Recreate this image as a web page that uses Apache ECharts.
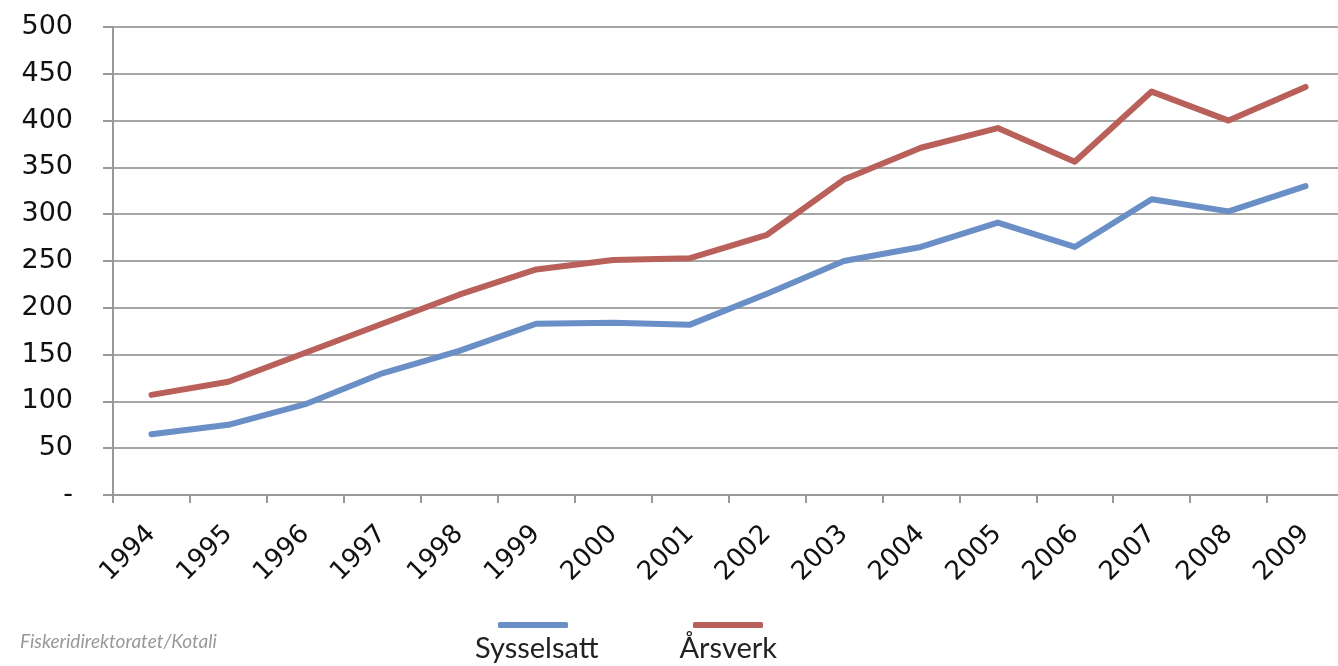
<!DOCTYPE html>
<html>
<head>
<meta charset="utf-8">
<script src="https://cdn.jsdelivr.net/npm/echarts@6/dist/echarts.min.js"></script>
<style>
  html, body { margin: 0; padding: 0; background: #fff; }
  #chart { width: 1338px; height: 666px; }
</style>
</head>
<body>
<div id="chart"></div>
<script>
// data
var years = ["1994", "1995", "1996", "1997", "1998", "1999", "2000", "2001",
             "2002", "2003", "2004", "2005", "2006", "2007", "2008", "2009"];
var sysselsatt = [65, 75, 97, 130, 154, 183, 184, 182, 215, 250, 265, 291, 265, 316, 303, 330];
var arsverk = [107, 121, 152, 183, 214, 241, 251, 253, 278, 337, 371, 392, 356, 431, 400, 436];
var seriesNames = ["Sysselsatt", "Årsverk"];
var seriesColors = ["#6a8fc6", "#b9605a"];

var chart = echarts.init(document.getElementById("chart"));

var option = {
    animation: false,
    title: {
        text: "Fiskeridirektoratet/Kotali",
        left: 20,
        top: 632,
        padding: 0,
        textStyle: {
            fontFamily: "Lato",
            fontStyle: "italic",
            fontWeight: "normal",
            fontSize: 19,
            color: "#999"
        }
    },
    legend: [
        // coloured bars only
        {
            data: seriesNames,
            left: 498,
            top: 622,
            padding: 0,
            icon: "roundRect",
            itemWidth: 70,
            itemHeight: 6,
            itemGap: 125,
            formatter: function () { return ""; }
        },
        // names under the bars
        {
            data: seriesNames,
            left: 470,
            top: 634,
            padding: 0,
            icon: "none",
            itemWidth: 0,
            itemGap: 76,
            textStyle: {
                fontFamily: "Lato",
                fontSize: 29,
                color: "#222"
            }
        }
    ],
    grid: {
        left: 113,
        width: 1231,
        top: 27,
        bottom: 171,
        outerBoundsMode: "none"
    },
    xAxis: {
        type: "category",
        data: years,
        boundaryGap: true,
        axisLine: { lineStyle: { color: "#999", width: 2 } },
        axisTick: { show: true, interval: 0, length: 8, lineStyle: { color: "#999", width: 2 } },
        axisLabel: {
            interval: 0,
            rotate: 45,
            margin: 35,
            fontFamily: "DejaVu Sans",
            fontSize: 26,
            color: "#111"
        }
    },
    yAxis: {
        type: "value",
        min: 0,
        max: 500,
        interval: 50,
        axisLine: { show: true, lineStyle: { color: "#999", width: 2 } },
        axisTick: { show: true, length: 10, lineStyle: { color: "#999", width: 2 } },
        splitLine: { lineStyle: { color: "#a6a6a6", width: 2 } },
        axisLabel: {
            margin: 40,
            fontFamily: "DejaVu Sans",
            fontSize: 27,
            color: "#111",
            formatter: function (v) { return v === 0 ? "-" : v; }
        }
    },
    series: [
        {
            name: seriesNames[0],
            type: "line",
            data: sysselsatt,
            symbol: "none",
            color: seriesColors[0],
            lineStyle: { width: 6, cap: "round", join: "round" }
        },
        {
            name: seriesNames[1],
            type: "line",
            data: arsverk,
            symbol: "none",
            color: seriesColors[1],
            lineStyle: { width: 6, cap: "round", join: "round" }
        }
    ]
};

chart.setOption(option);
</script>
</body>
</html>
